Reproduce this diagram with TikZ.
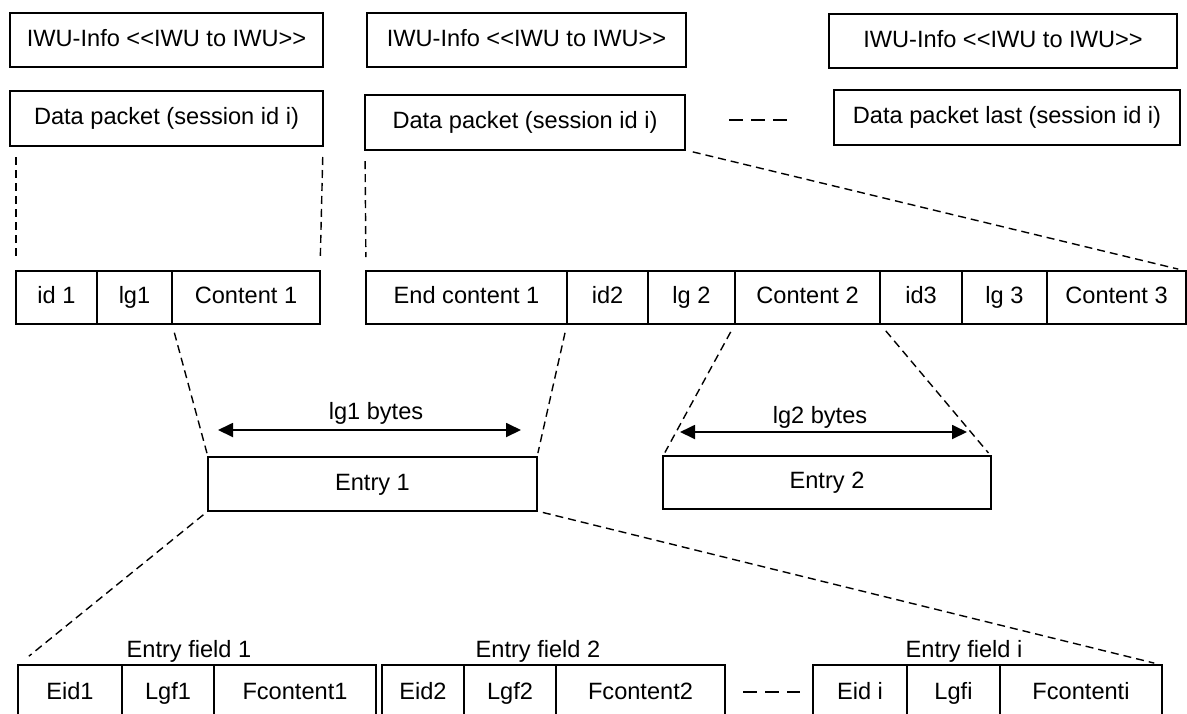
\documentclass[tikz,border=0pt]{standalone}
\usepackage{fontspec}
\setmainfont{Liberation Sans}
\usetikzlibrary{arrows.meta,positioning}

\begin{document}
\begin{tikzpicture}[x=0.5pt,y=-0.5pt,font=\fontsize{11.8}{14}\selectfont,
    box/.style={draw,line width=0.9pt,anchor=north west,inner sep=0pt,outer sep=0pt,
                minimum height=27pt,text height=8.6pt,text depth=2.6pt},
    cell/.style={draw,line width=0.9pt,inner sep=0pt,outer sep=0pt,minimum height=26.5pt,
                text height=8.6pt,text depth=2.6pt},
    fcell/.style={draw,line width=0.9pt,inner sep=0pt,outer sep=0pt,minimum height=28pt,
                text height=8.6pt,text depth=2.6pt},
    zoomln/.style={dash pattern=on 4pt off 2.5pt,line width=0.7pt},
    gap/.style={dash pattern=on 7pt off 4pt,line width=0.8pt},
    arr/.style={{Triangle[length=7.5pt,width=7pt]}-{Triangle[length=7.5pt,width=7pt]},line width=0.9pt}]
  \useasboundingbox (0,0) rectangle (1187,713);
  \node[box,minimum width=156.5pt] (a1) at (10,13)  {IWU-Info <{}<IWU to IWU>{}>};
  \node[box,minimum width=156.5pt,minimum height=27.5pt] (a2) at (10,91)  {Data packet (session id i)};
  \node[box,minimum width=159.5pt] (b1) at (367,13) {IWU-Info <{}<IWU to IWU>{}>};
  \node[box,minimum width=160pt,minimum height=27.5pt] (b2) at (365,95) {Data packet (session id i)};
  \node[box,minimum width=174pt] (c1) at (829,14) {IWU-Info <{}<IWU to IWU>{}>};
  \node[box,minimum width=173pt,minimum height=27.5pt] (c2) at (834,90) {Data packet last (session id i)};
  \coordinate (d1a) at (729,120); \coordinate (d1b) at (787,120);
  \draw[gap] (d1a) -- (d1b);

  \node[cell,anchor=north west,minimum width=40.5pt] (id1) at (16,271) {id 1};
  \node[cell,right=0pt of id1,minimum width=37.5pt] (lg1) {lg1};
  \node[cell,right=0pt of lg1,minimum width=74pt] (ct1) {Content 1};
  \node[cell,anchor=north west,minimum width=100.5pt] (ec1) at (366,271) {End content 1};
  \node[cell,right=0pt of ec1,minimum width=40.5pt] (id2) {id2};
  \node[cell,right=0pt of id2,minimum width=43.5pt] (lg2) {lg 2};
  \node[cell,right=0pt of lg2,minimum width=72.5pt] (ct2) {Content 2};
  \node[cell,right=0pt of ct2,minimum width=41pt] (id3) {id3};
  \node[cell,right=0pt of id3,minimum width=42.5pt] (lg3) {lg 3};
  \node[cell,right=0pt of lg3,minimum width=69.5pt] (ct3) {Content 3};

  \node[box,minimum width=164.5pt] (e1) at (208,457) {Entry 1};
  \node[box,minimum width=164pt,minimum height=26.5pt] (e2) at (663,456) {Entry 2};
  \node (lb1) at (376,413) {lg1 bytes};
  \node (lb2) at (820,417) {lg2 bytes};
  \coordinate (l1a) at (218,430); \coordinate (l1b) at (521,430);
  \coordinate (l2a) at (680,432); \coordinate (l2b) at (967,432);
  \draw[arr] (l1a) -- (l1b);
  \draw[arr] (l2a) -- (l2b);

  \node (ef1) at (189,651) {Entry field 1};
  \node (ef2) at (538,651) {Entry field 2};
  \node (efi) at (964,651) {Entry field i};
  \node[fcell,anchor=north west,minimum width=52pt] (eid1) at (18,665) {Eid1};
  \node[fcell,right=0pt of eid1,minimum width=46pt] (lgf1) {Lgf1};
  \node[fcell,right=0pt of lgf1,minimum width=81pt] (fc1) {Fcontent1};
  \node[fcell,anchor=north west,minimum width=41pt] (eid2) at (382,665) {Eid2};
  \node[fcell,right=0pt of eid2,minimum width=46pt] (lgf2) {Lgf2};
  \node[fcell,right=0pt of lgf2,minimum width=84.5pt] (fc2) {Fcontent2};
  \node[fcell,anchor=north west,minimum width=47pt] (eidi) at (813,665) {Eid i};
  \node[fcell,right=0pt of eidi,minimum width=46.5pt] (lgfi) {Lgfi};
  \node[fcell,right=0pt of lgfi,minimum width=81pt] (fci) {Fcontenti};
  \coordinate (d2a) at (743,692); \coordinate (d2b) at (800,692);
  \draw[gap] (d2a) -- (d2b);

  \draw[zoomln,shorten <=5.5pt,shorten >=7pt] (a2.south west -| id1.north west) -- (id1.north west);
  \draw[zoomln,shorten <=5.5pt,shorten >=7pt] (a2.south east) -- (ct1.north east);
  \draw[zoomln,shorten <=5.5pt,shorten >=7pt] (b2.south west) -- (ec1.north west);
  \draw[zoomln,shorten <=4pt,shorten >=4pt] (b2.south east) -- (ct3.north east);
  \draw[zoomln,shorten <=4.5pt,shorten >=2pt] (lg1.south east) -- (e1.north west);
  \draw[zoomln,shorten <=4.5pt,shorten >=2pt] (ec1.south east) -- (e1.north east);
  \draw[zoomln,shorten <=4.5pt,shorten >=2pt] (lg2.south east) -- (e2.north west);
  \draw[zoomln,shorten <=4.5pt,shorten >=2pt] (ct2.south east) -- (e2.north east);
  \draw[zoomln,shorten <=3pt,shorten >=7pt] (e1.south west) -- (eid1.north west);
  \draw[zoomln,shorten <=3pt,shorten >=4pt] (e1.south east) -- (fci.north east);
\end{tikzpicture}
\end{document}
